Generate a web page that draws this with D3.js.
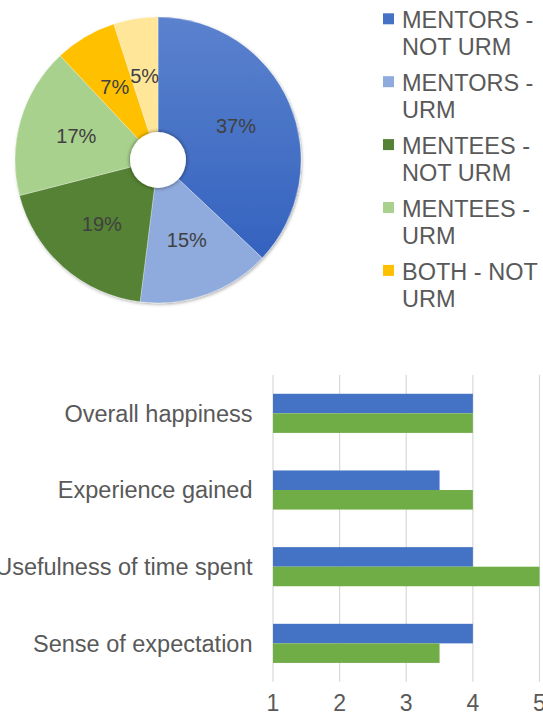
<!DOCTYPE html>
<html>
<head>
<meta charset="utf-8">
<script src="https://cdn.jsdelivr.net/npm/d3@7"></script>
<style>
  body { margin: 0; background: #fff; overflow: hidden; }
  svg { display: block; font-family: "Liberation Sans", Arial, sans-serif; }
</style>
</head>
<body>
<svg id="chart" width="543" height="715"></svg>
<script>
/* Data */
var groups = ['MENTORS - NOT URM', 'MENTORS - URM', 'MENTEES - NOT URM', 'MENTEES - URM', 'BOTH - NOT URM', 'BOTH - URM'];
var groupShares = [37, 15, 19, 17, 7, 5];
var groupColors = ['#4472C4', '#8FAADC', '#548235', '#A9D18E', '#FFC000', '#FFE699'];

var questions = ['Overall happiness', 'Experience gained', 'Usefulness of time spent', 'Sense of expectation'];
var mentorScores = [4, 3.5, 4, 4];
var menteeScores = [4, 4, 5, 3.5];
var seriesColors = ['#4472C4', '#70AD47'];
var xTicks = [1, 2, 3, 4, 5];

var svg = d3.select('#chart');
var defs = svg.append('defs');

/* Pie */
var cx = 158, cy = 160, outerR = 143, holeR = 28;

var shadow = defs.append('filter').attr('id', 'pieShadow')
    .attr('x', '-20%').attr('y', '-20%').attr('width', '140%').attr('height', '140%');
shadow.append('feDropShadow').attr('dx', 1).attr('dy', 1.5).attr('stdDeviation', 1.5)
    .attr('flood-color', '#000').attr('flood-opacity', 0.3);

var holeShadow = defs.append('filter').attr('id', 'holeShadow')
    .attr('x', '-40%').attr('y', '-40%').attr('width', '180%').attr('height', '180%');
holeShadow.append('feDropShadow').attr('dx', 0).attr('dy', 0).attr('stdDeviation', 2)
    .attr('flood-color', '#000').attr('flood-opacity', 0.55);

var blueGrad = defs.append('linearGradient').attr('id', 'blueGrad')
    .attr('x1', 0).attr('y1', 0).attr('x2', 0).attr('y2', 1);
blueGrad.append('stop').attr('offset', '0%').attr('stop-color', '#5B82CE');
blueGrad.append('stop').attr('offset', '100%').attr('stop-color', '#3462BE');

var pie = d3.pie().sort(null).value(d => d);
var arc = d3.arc().innerRadius(0).outerRadius(outerR);
var labelArc = d3.arc().innerRadius(85).outerRadius(85);

var pieG = svg.append('g').attr('transform', 'translate(' + cx + ',' + cy + ')');

pieG.append('g').attr('filter', 'url(#pieShadow)')
  .selectAll('path')
  .data(pie(groupShares))
  .join('path')
    .attr('d', arc)
    .attr('fill', (d, i) => i === 0 ? 'url(#blueGrad)' : groupColors[i])
    .attr('stroke', '#ffffff')
    .attr('stroke-opacity', 0.5)
    .attr('stroke-width', 0.6);

pieG.append('circle')
    .attr('r', holeR)
    .attr('fill', '#fff')
    .attr('filter', 'url(#holeShadow)');

pieG.selectAll('.pie-label')
  .data(pie(groupShares))
  .join('text')
    .attr('class', 'pie-label')
    .attr('transform', d => 'translate(' + labelArc.centroid(d) + ')')
    .attr('text-anchor', 'middle')
    .attr('dy', '0.35em')
    .attr('font-size', 20)
    .attr('fill', '#404040')
    .text(d => d.data + '%');

/* Legend - clipped like the original, last entry falls outside */
defs.append('clipPath').attr('id', 'legendClip')
  .append('rect').attr('x', 370).attr('y', 0).attr('width', 173).attr('height', 318);

var legend = svg.append('g').attr('clip-path', 'url(#legendClip)');
var legendItem = legend.selectAll('g')
  .data(groups)
  .join('g')
    .attr('transform', (d, i) => 'translate(383,' + (28.3 + i * 62.9) + ')');

legendItem.append('rect')
    .attr('x', 0).attr('y', -15)
    .attr('width', 11).attr('height', 11)
    .attr('fill', (d, i) => groupColors[i]);

legendItem.append('text')
    .attr('x', 19)
    .attr('font-size', 23.5)
    .attr('fill', '#595959')
    .selectAll('tspan')
    .data(d => {
        var k = d.indexOf(' - ');
        var first = d.slice(0, k + 2), rest = d.slice(k + 3);
        // "BOTH - NOT" keeps NOT on the first line
        if (d.startsWith('BOTH') && rest.startsWith('NOT')) { first = d.slice(0, k + 6); rest = d.slice(k + 7); }
        return [first, rest];
    })
    .join('tspan')
      .attr('x', 19)
      .attr('dy', (d, i) => i === 0 ? 0 : 27)
      .text(d => d);

/* Bar chart */
var xScale = d3.scaleLinear().domain([1, 5]).range([273, 539.5]);
var yScale = d3.scaleBand().domain(questions).range([375, 681.7]).paddingInner(0).paddingOuter(0);
var groupH = yScale.bandwidth() * 0.51;
var subScale = d3.scaleBand().domain([0, 1]).range([0, groupH]);

svg.append('g').selectAll('line')
  .data(xTicks)
  .join('line')
    .attr('x1', d => xScale(d)).attr('x2', d => xScale(d))
    .attr('y1', 375).attr('y2', 681.7)
    .attr('stroke', '#d9d9d9')
    .attr('stroke-width', 1.2);

var barData = questions.map((q, i) => ({ q: q, vals: [mentorScores[i], menteeScores[i]] }));

var barGroup = svg.append('g').selectAll('g')
  .data(barData)
  .join('g')
    .attr('transform', d => 'translate(0,' + (yScale(d.q) + (yScale.bandwidth() - groupH) / 2) + ')');

barGroup.selectAll('rect')
  .data(d => d.vals)
  .join('rect')
    .attr('x', xScale(1))
    .attr('y', (d, i) => subScale(i))
    .attr('width', d => xScale(d) - xScale(1))
    .attr('height', subScale.bandwidth())
    .attr('fill', (d, i) => seriesColors[i]);

svg.append('g').selectAll('text')
  .data(questions)
  .join('text')
    .attr('x', 252.5)
    .attr('y', d => yScale(d) + yScale.bandwidth() / 2)
    .attr('dy', '0.35em')
    .attr('text-anchor', 'end')
    .attr('font-size', 23.5)
    .attr('fill', '#595959')
    .text(d => d);

svg.append('g').selectAll('text')
  .data(xTicks)
  .join('text')
    .attr('x', d => xScale(d))
    .attr('y', 711)
    .attr('text-anchor', 'middle')
    .attr('font-size', 23)
    .attr('fill', '#595959')
    .text(d => d);
</script>
</body>
</html>
